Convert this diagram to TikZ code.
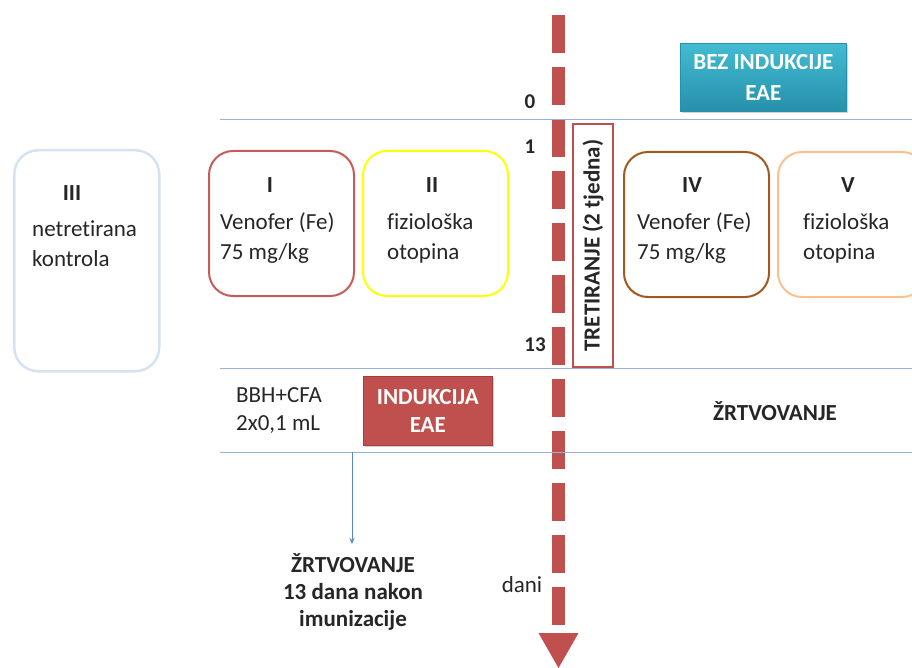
\documentclass[tikz,border=0pt]{standalone}
\usepackage{fontspec}
\setmainfont{Carlito}[Ligatures={NoCommon}]
\usetikzlibrary{shadows,arrows.meta}
\definecolor{txt}{HTML}{262626}
\definecolor{gridblue}{HTML}{95B3D7}
\definecolor{eaered}{HTML}{C0504D}
\definecolor{eaereddark}{HTML}{A0403D}
\definecolor{palebl}{HTML}{D5E2F2}
\definecolor{grpI}{HTML}{C65B57}
\definecolor{grpII}{HTML}{FFFF00}
\definecolor{grpIV}{HTML}{A2591F}
\definecolor{grpV}{HTML}{FAC090}
\definecolor{tealtop}{HTML}{42BCD2}
\definecolor{tealbot}{HTML}{2790AB}
\definecolor{arrblue}{HTML}{5B88C8}
\begin{document}
\begin{tikzpicture}[x=1pt,y=-1pt,
  every node/.style={text=txt, inner sep=0pt, font=\fontsize{23}{30}\selectfont},
  grp/.style={draw, line width=2pt, rounded corners=24pt, anchor=north west},
  rule/.style={gridblue, line width=1pt},
  lbl/.style={align=left, anchor=west},
  hd/.style={font=\fontsize{23}{30}\selectfont\bfseries},
  num/.style={font=\fontsize{21}{25}\selectfont\bfseries},
  whitebold/.style={text=white, align=center, font=\fontsize{23}{30}\selectfont\bfseries}
]
\useasboundingbox (0,0) rectangle (912,668);

% dashed time axis
\coordinate (axtop) at (558.5,15);
\coordinate (axbase) at (558.5,633);
\coordinate (axtip) at (558.5,668);
\draw[eaered, line width=12.5pt, dash pattern=on 38pt off 14pt] (axtop) -- (axbase);
\fill[eaered] ([xshift=-20pt]axbase) -- ([xshift=20pt]axbase) -- (axtip) -- cycle;

% horizontal rules
\coordinate (r1a) at (220,120); \coordinate (r1b) at (912,120);
\coordinate (r2a) at (220,368); \coordinate (r2b) at (912,368);
\coordinate (r3a) at (220,452); \coordinate (r3b) at (912,452);
\draw[rule] (r1a) -- (r1b);
\draw[rule] (r2a) -- (r2b);
\draw[rule] (r3a) -- (r3b);

% day labels
\node[num] (d0) at (530,102) {0};
\node[num] (d1) at (530,147) {1};
\node[num] (d13) at (535,345) {13};
\node (dani) at (522,585) {dani};

% BEZ INDUKCIJE EAE
\node[draw=tealbot, line width=0.6pt, top color=tealtop, bottom color=tealbot,
      drop shadow={opacity=0.35, shadow xshift=1.5pt, shadow yshift=-1.5pt},
      minimum width=166pt, minimum height=68pt, anchor=north west,
      whitebold, font=\fontsize{23}{31}\selectfont\bfseries] (bez) at (680,43) {BEZ INDUKCIJE\\EAE};

% TRETIRANJE box
\node[draw=eaered, line width=2pt, minimum width=40pt, minimum height=243pt,
      anchor=north west] (tret) at (572,123) {};
\node[hd, rotate=90] (trettxt) at (tret.center) {TRETIRANJE (2 tjedna)};

% group boxes
\node[grp, draw=palebl, line width=2.5pt, minimum width=145pt, minimum height=221pt] (gIII) at (13,149) {};
\node[grp, draw=grpI, minimum width=145pt, minimum height=145pt] (gI) at (208,150) {};
\node[grp, draw=grpII, minimum width=145pt, minimum height=145pt] (gII) at (362,150) {};
\node[grp, draw=grpIV, minimum width=145pt, minimum height=145pt] (gIV) at (623,151) {};
\node[grp, draw=grpV, minimum width=148pt, minimum height=145pt] (gV) at (777,151) {};

\node[hd] (tIII) at (72,193) {III};
\node[lbl] (lIII) at (32,244) {netretirana\\kontrola};
\node[hd] (tI) at (270,185) {I};
\node[lbl] (lI) at (220,238) {Venofer (Fe)\\75 mg/kg};
\node[hd] (tII) at (432,185) {II};
\node[lbl] (lII) at (387,238) {fiziološka\\otopina};
\node[hd] (tIV) at (692,185) {IV};
\node[lbl] (lIV) at (637,238) {Venofer (Fe)\\75 mg/kg};
\node[hd] (tV) at (848,185) {V};
\node[lbl] (lV) at (803,238) {fiziološka\\otopina};

% induction row
\node[lbl, font=\fontsize{23}{28}\selectfont] (bbh) at (236,411) {BBH+CFA\\2x0,1 mL};
\node[fill=eaered, draw=eaereddark, line width=0.6pt,
      drop shadow={opacity=0.35, shadow xshift=1.5pt, shadow yshift=-1.5pt},
      minimum width=129pt, minimum height=69pt, anchor=north west,
      whitebold, font=\fontsize{23}{28}\selectfont\bfseries] (ind) at (363,376) {INDUKCIJA\\EAE};
\node[hd] (zrt) at (775,411) {ŽRTVOVANJE};

% sacrifice of induced group
\node[align=center, font=\fontsize{23}{27}\selectfont\bfseries] (zrt2) at (353,592) {ŽRTVOVANJE\\13 dana nakon\\imunizacije};
\coordinate (astart) at (352,452);
\coordinate (aend) at (352,544);
\draw[arrblue, line width=0.9pt, -{Stealth[length=6pt,width=5pt]}] (astart) -- (aend);
\end{tikzpicture}
\end{document}
